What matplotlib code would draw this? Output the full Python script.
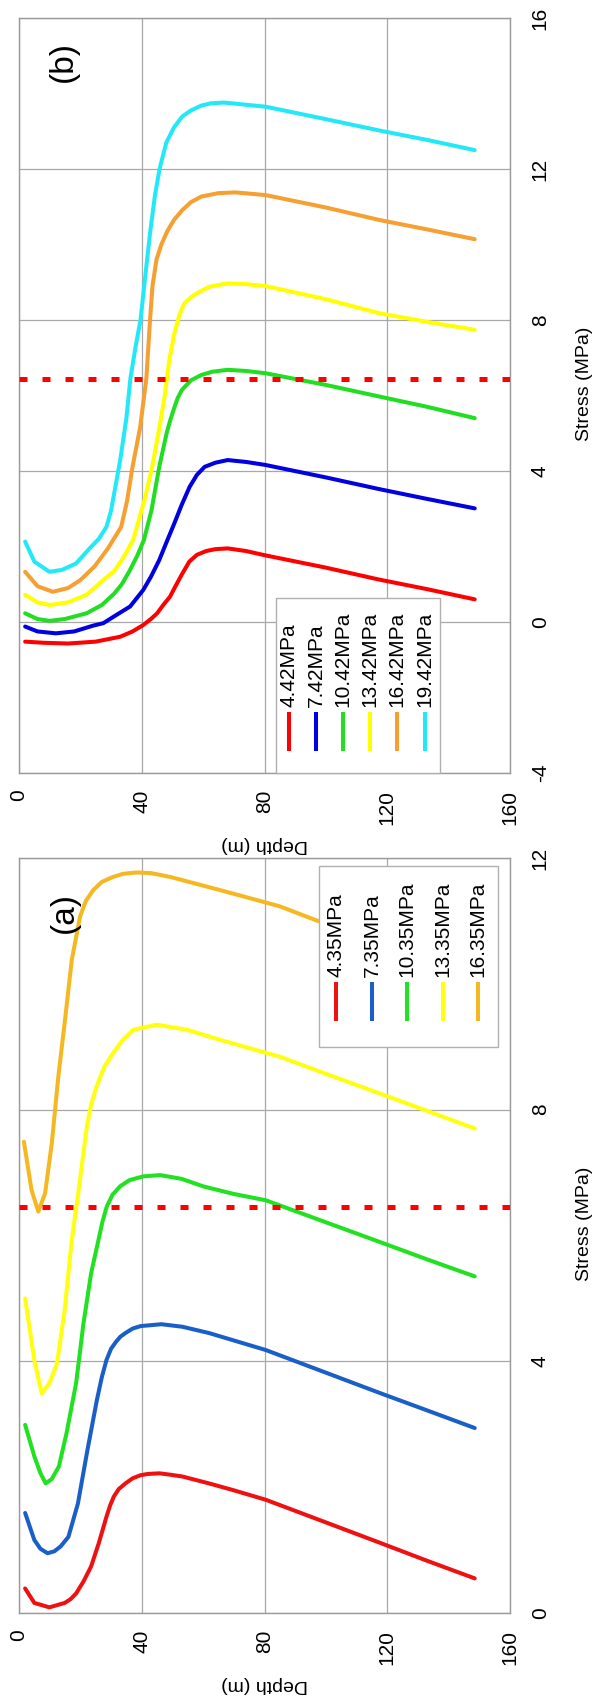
import matplotlib
matplotlib.use("Agg")
import matplotlib.pyplot as plt
from matplotlib.patches import Rectangle

plt.rcParams['font.family'] = ['Liberation Sans', 'DejaVu Sans']
plt.rcParams['axes.unicode_minus'] = False

# ---------------- Panel (a) data ----------------
a_labels = ["4.35MPa", "7.35MPa", "10.35MPa", "13.35MPa", "16.35MPa"]
a_colors = ["#ee1111", "#1a5fc8", "#22e022", "#ffff10", "#f5b820"]

a_d1 = [2, 5, 9.9, 14.9, 16.8, 18.6, 21, 23.5, 26, 28.5, 29.7, 30.9, 32.5, 34.7, 37, 39.6, 42, 45.8, 49, 53.2, 61.9, 70, 80.4, 100, 117.4, 133, 148.5]
a_s1 = [0.39, 0.16, 0.09, 0.16, 0.22, 0.31, 0.5, 0.74, 1.11, 1.53, 1.71, 1.85, 1.97, 2.06, 2.14, 2.19, 2.21, 2.22, 2.2, 2.17, 2.06, 1.95, 1.80, 1.44, 1.12, 0.83, 0.55]

a_d2 = [2, 5, 7, 9.3, 11.5, 13.6, 16.1, 19.2, 22.3, 25.4, 27, 28.5, 30, 31.6, 33, 34.7, 37, 39.6, 46.4, 53.2, 61.9, 80.4, 100, 117.4, 133, 148.5]
a_s2 = [1.59, 1.16, 1.02, 0.95, 0.98, 1.06, 1.21, 1.74, 2.59, 3.39, 3.75, 4.02, 4.2, 4.31, 4.39, 4.45, 4.52, 4.56, 4.59, 4.55, 4.45, 4.18, 3.82, 3.50, 3.22, 2.94]

a_d3 = [2, 5, 7, 8.7, 10.7, 13, 15.5, 18.6, 21, 23.5, 25.9, 27.2, 28.6, 30.5, 32.9, 36, 40.5, 46, 53, 60.1, 70, 80.4, 100, 117.4, 133, 148.5]
a_s3 = [2.99, 2.49, 2.22, 2.06, 2.13, 2.33, 2.86, 3.65, 4.6, 5.4, 5.93, 6.22, 6.46, 6.65, 6.78, 6.88, 6.94, 6.96, 6.90, 6.78, 6.66, 6.56, 6.21, 5.90, 5.62, 5.35]

a_d4 = [2, 5, 7.4, 9.9, 12.4, 14.9, 17.2, 19.3, 22.1, 23.6, 25.3, 27.8, 30.7, 34, 37.3, 44.9, 54.7, 65.5, 85.1, 100, 117.4, 133, 148.5]
a_s4 = [5.00, 4.02, 3.49, 3.65, 3.97, 4.82, 5.93, 6.67, 7.73, 8.1, 8.37, 8.68, 8.90, 9.12, 9.27, 9.35, 9.27, 9.11, 8.84, 8.57, 8.26, 7.98, 7.70]

a_d5 = [1.6, 4.1, 6.3, 8.5, 10.7, 12.8, 15, 17.2, 19.9, 21.8, 24.2, 27, 30.7, 34, 38.4, 43, 49.2, 65.5, 85.1, 100, 117.4, 133, 148.5]
a_s5 = [7.49, 6.72, 6.38, 6.67, 7.47, 8.52, 9.43, 10.38, 11.07, 11.32, 11.49, 11.62, 11.70, 11.75, 11.77, 11.76, 11.70, 11.49, 11.23, 10.95, 10.63, 10.34, 10.05]

# ---------------- Panel (b) data ----------------
b_labels = ["4.42MPa", "7.42MPa", "10.42MPa", "13.42MPa", "16.42MPa", "19.42MPa"]
b_colors = ["#ff0000", "#0000e0", "#22dd22", "#ffff00", "#f5a030", "#22e8f8"]

b_d1 = [2, 8, 16, 25, 33, 37, 40.5, 43, 45, 47, 49.2, 51, 53, 55.5, 58, 61, 64, 68, 74, 80, 100, 117, 133, 148.5]
b_s1 = [-0.52, -0.55, -0.57, -0.52, -0.39, -0.25, -0.08, 0.08, 0.23, 0.45, 0.67, 0.95, 1.25, 1.6, 1.78, 1.88, 1.93, 1.95, 1.88, 1.77, 1.44, 1.13, 0.87, 0.60]

b_d2 = [2, 6, 12, 18, 24, 27.5, 32, 36.2, 40.5, 43, 45.7, 48, 50.6, 53, 55.6, 58, 60.5, 64, 68, 74, 80.3, 100, 117.4, 133, 148.5]
b_s2 = [-0.12, -0.25, -0.30, -0.25, -0.10, -0.03, 0.2, 0.41, 0.85, 1.2, 1.64, 2.1, 2.61, 3.1, 3.58, 3.9, 4.11, 4.22, 4.29, 4.24, 4.16, 3.83, 3.52, 3.26, 3.01]

b_d3 = [2, 6, 10, 15, 22, 27, 31, 33.5, 36, 38.5, 40.7, 43.2, 45.7, 48.1, 49.3, 50.5, 51.7, 53.1, 56, 59.3, 63, 68, 74, 80.3, 100, 117, 133, 148.5]
b_s3 = [0.23, 0.08, 0.03, 0.08, 0.23, 0.45, 0.75, 1.0, 1.35, 1.75, 2.17, 2.97, 4.11, 5.0, 5.35, 5.65, 5.93, 6.15, 6.4, 6.54, 6.63, 6.68, 6.65, 6.59, 6.28, 5.98, 5.70, 5.40]

b_d4 = [2, 6, 10, 16, 22, 27.5, 31, 34, 37.2, 40.9, 43.4, 45.8, 47.5, 48.9, 50.5, 51.8, 52.8, 54, 56, 58, 62, 68, 74, 80.3, 100, 117.4, 133, 148.5]
b_s4 = [0.72, 0.52, 0.45, 0.52, 0.72, 1.11, 1.35, 1.7, 2.17, 3.23, 4.11, 5.17, 6.0, 6.9, 7.6, 8.0, 8.25, 8.45, 8.6, 8.71, 8.88, 8.97, 8.95, 8.90, 8.55, 8.18, 7.95, 7.74]

b_d5 = [2, 6, 11, 16, 20, 24.6, 29, 33.3, 35.2, 37, 39.5, 41.5, 42.7, 43.5, 44.8, 46.4, 48.3, 50.5, 53.2, 56, 59.4, 65, 70.5, 80.3, 100, 117.4, 133, 148.5]
b_s5 = [1.33, 0.95, 0.80, 0.90, 1.11, 1.47, 1.95, 2.52, 3.2, 4.11, 5.17, 6.45, 8.0, 8.9, 9.6, 10.0, 10.35, 10.65, 10.91, 11.12, 11.27, 11.36, 11.38, 11.31, 10.98, 10.65, 10.40, 10.14]

b_d6 = [2, 5, 9.9, 14, 18.6, 23, 26, 28.5, 30, 31, 33, 35, 36.3, 38, 39.6, 41.2, 42.7, 44.3, 45.8, 48, 50.5, 53.2, 56, 59.4, 62.5, 66.8, 80.4, 100, 117.4, 133, 148.5]
b_s6 = [2.13, 1.6, 1.33, 1.38, 1.55, 1.95, 2.2, 2.52, 2.95, 3.4, 4.3, 5.4, 6.45, 7.3, 8.0, 9.2, 10.3, 11.3, 12.0, 12.7, 13.1, 13.39, 13.55, 13.68, 13.74, 13.76, 13.65, 13.32, 13.02, 12.77, 12.50]

critical_stress = 6.45

depth_ticks = [0, 40, 80, 120, 160]
a_stress_ticks = [0, 4, 8, 12]
b_stress_ticks = [-4, 0, 4, 8, 12, 16]

a_series = [(a_d1, a_s1), (a_d2, a_s2), (a_d3, a_s3), (a_d4, a_s4), (a_d5, a_s5)]
b_series = [(b_d1, b_s1), (b_d2, b_s2), (b_d3, b_s3), (b_d4, b_s4), (b_d5, b_s5), (b_d6, b_s6)]

W, H = 595, 1697
fig = plt.figure(figsize=(W / 100, H / 100), dpi=100)
fig.patch.set_facecolor("white")

ax_b = fig.add_axes([19 / W, 1 - 773 / H, 491 / W, 755 / H])
ax_a = fig.add_axes([19 / W, 1 - 1613 / H, 491 / W, 755 / H])

GRID = "#a8a8a8"
LW = 2.9


def style_axes(ax, yticks, ylim):
    ax.set_xlim(0, 160)
    ax.set_ylim(*ylim)
    ax.set_xticks(depth_ticks)
    ax.set_yticks(yticks)
    ax.yaxis.tick_right()
    ax.tick_params(axis="both", length=0, labelsize=15)
    ax.tick_params(axis="x", pad=12, labelrotation=90)
    ax.tick_params(axis="y", pad=15, labelrotation=90)
    for lab in ax.get_yticklabels():
        lab.set_va("center")
    ax.grid(True, color=GRID, lw=0.9, zorder=0)
    ax.set_axisbelow(True)
    for sp in ax.spines.values():
        sp.set_color("#999999")
        sp.set_linewidth(1.0)
    ax.text(0.5, -0.095, "Depth (m)", rotation=180, ha="center", va="center",
            fontsize=14, transform=ax.transAxes)
    ax.text(1.151, 0.515, "Stress (MPa)", rotation=90, ha="center", va="center",
            fontsize=14, transform=ax.transAxes)


def draw_legend(ax, box, xs, y0, y1, ytext, labels, colors):
    bx0, by0, bx1, by1 = box
    ax.add_patch(Rectangle((bx0, by0), bx1 - bx0, by1 - by0, transform=ax.transAxes,
                           facecolor="white", edgecolor="#b0b0b0", lw=1.0, zorder=5,
                           clip_on=False))
    for x, lab, c in zip(xs, labels, colors):
        ax.plot([x, x], [y0, y1], color=c, lw=LW, transform=ax.transAxes,
                zorder=6, solid_capstyle="butt", clip_on=False)
        ax.text(x, ytext, lab, rotation=90, ha="center", va="bottom", fontsize=15,
                transform=ax.transAxes, zorder=7)


def draw_curves(ax, series, colors):
    for (d, s), c in zip(series, colors):
        ax.plot(d, s, color=c, lw=LW, zorder=3, solid_capstyle="round",
                solid_joinstyle="round")


# ---- panel (b)
style_axes(ax_b, b_stress_ticks, (-4, 16))
draw_curves(ax_b, b_series, b_colors)
ax_b.axhline(critical_stress, color="#ff0000", lw=3.6, dashes=(1.6, 3), zorder=4)
ax_b.text(0.0896, 0.942, "(b)", rotation=90, ha="center", va="center", fontsize=24,
          transform=ax_b.transAxes)
draw_legend(ax_b, (0.5234, 0.0, 0.8574, 0.2318),
            [0.550, 0.605, 0.660, 0.714, 0.770, 0.827], 0.029, 0.081, 0.0874,
            b_labels, b_colors)

# ---- panel (a)
style_axes(ax_a, a_stress_ticks, (0, 12))
draw_curves(ax_a, a_series, a_colors)
ax_a.axhline(critical_stress, color="#ff0000", lw=3.6, dashes=(1.6, 3), zorder=4)
ax_a.text(0.0916, 0.928, "(a)", rotation=90, ha="center", va="center", fontsize=24,
          transform=ax_a.transAxes)
draw_legend(ax_a, (0.611, 0.7497, 0.9756, 0.9894),
            [0.6456, 0.719, 0.790, 0.8635, 0.935], 0.784, 0.836, 0.8424,
            a_labels, a_colors)

fig.savefig("out.png", dpi=100, facecolor="white")
